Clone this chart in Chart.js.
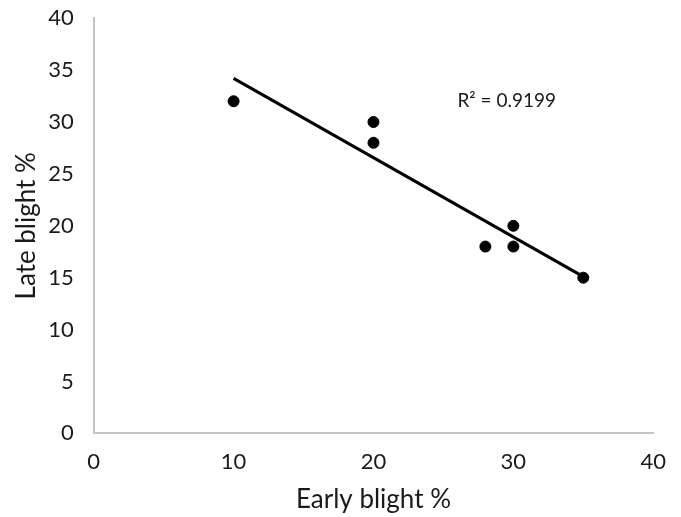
<!DOCTYPE html>
<html>
<head>
<meta charset="utf-8">
<script src="https://cdn.jsdelivr.net/npm/chart.js@4.4.0/dist/chart.umd.min.js"></script>
<style>
  html, body { margin: 0; padding: 0; background: #fff; }
  #wrap { position: relative; width: 681px; height: 517px; overflow: hidden; }
  #inner { position: absolute; left: 0; top: -15px; width: 681px; height: 532px; }
</style>
</head>
<body>
<div id="wrap"><div id="inner"><canvas id="chart"></canvas></div></div>
<script>
(() => {
  // observed points (Early blight %, Late blight %)
  const earlyBlight = [10, 20, 20, 28, 30, 30, 35];
  const lateBlight = [32, 30, 28, 18, 20, 18, 15];

  // linear trendline endpoints
  const trendX = [10, 35];
  const trendY = [34.2, 15.1];

  const xTicks = [0, 10, 20, 30, 40];
  const yTicks = [0, 5, 10, 15, 20, 25, 30, 35, 40];
  const r2Label = 'R² = 0.9199';
  const r2Pos = { x: 26, y: 32 };

  const fontFamily = 'Lato, "Open Sans", sans-serif';
  const textColor = '#1a1a1a';
  const axisColor = '#c4c4c4';

  const r2Plugin = {
    id: 'r2Label',
    afterDatasetsDraw(chart) {
      const { ctx, scales } = chart;
      ctx.save();
      ctx.fillStyle = textColor;
      ctx.font = `19px ${fontFamily}`;
      ctx.textAlign = 'left';
      ctx.textBaseline = 'middle';
      ctx.fillText(r2Label, scales.x.getPixelForValue(r2Pos.x), scales.y.getPixelForValue(r2Pos.y));
      ctx.restore();
    }
  };

  const axis = (ticks, title, tickPad, titlePad) => ({
    type: 'linear',
    min: 0,
    max: 40,
    afterBuildTicks: scale => { scale.ticks = ticks.map(v => ({ value: v })); },
    grid: { display: false, drawTicks: false },
    border: { display: true, color: axisColor, width: 2 },
    ticks: {
      color: textColor,
      padding: tickPad,
      font: { family: fontFamily, size: 22 }
    },
    title: {
      display: true,
      text: title,
      color: textColor,
      font: { family: fontFamily, size: 26 },
      padding: titlePad
    }
  });

  new Chart(document.getElementById('chart').getContext('2d'), {
    type: 'scatter',
    data: {
      datasets: [
        {
          label: 'Observed',
          data: earlyBlight.map((x, i) => ({ x, y: lateBlight[i] })),
          backgroundColor: '#000',
          borderColor: '#000',
          pointRadius: 5.5,
          pointHoverRadius: 5.5
        },
        {
          label: 'Linear',
          type: 'line',
          data: trendX.map((x, i) => ({ x, y: trendY[i] })),
          borderColor: '#000',
          borderWidth: 3,
          pointRadius: 0,
          fill: false
        }
      ]
    },
    options: {
      responsive: true,
      maintainAspectRatio: false,
      animation: false,
      layout: { padding: { top: 0, right: 25, left: 11, bottom: 2 } },
      plugins: {
        legend: { display: false },
        tooltip: { enabled: false }
      },
      scales: {
        x: axis(xTicks, 'Early blight %', 15, { top: -6, bottom: 0 }),
        y: axis(yTicks, 'Late blight %', 20, { top: 0, bottom: -14 })
      }
    },
    plugins: [r2Plugin]
  });
})();
</script>
</body>
</html>
